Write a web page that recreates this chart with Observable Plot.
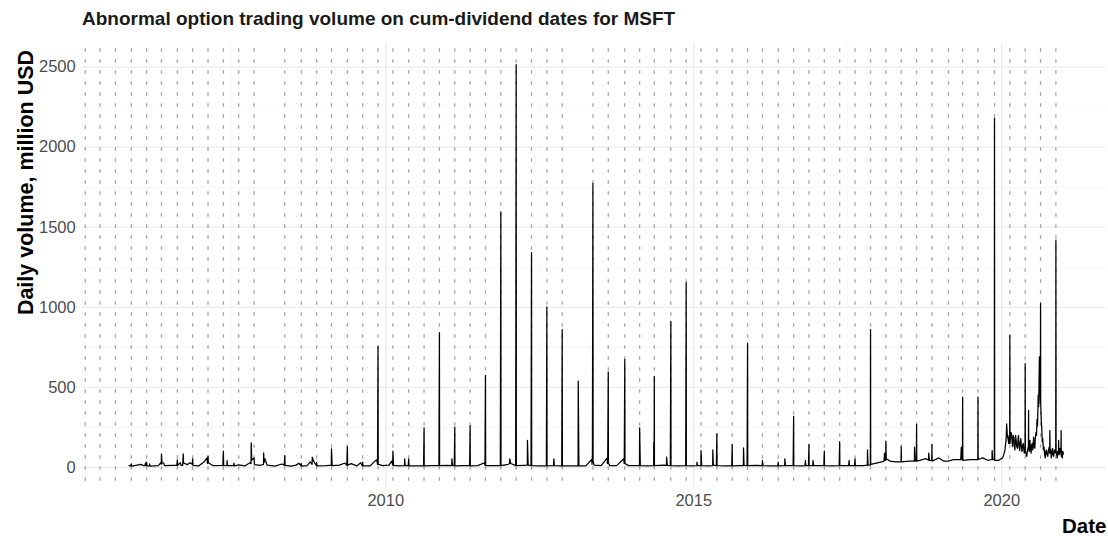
<!DOCTYPE html>
<html>
<head>
<meta charset="utf-8">
<script src="https://cdn.jsdelivr.net/npm/d3@7"></script>
<script src="https://cdn.jsdelivr.net/npm/@observablehq/plot@0.6"></script>
<style>
  html, body { margin: 0; padding: 0; background: #fff; }
  body { width: 1108px; height: 536px; overflow: hidden; font-family: "Liberation Sans", Arial, sans-serif; }
  #title { height: 36px; box-sizing: border-box; padding: 9px 0 0 82px; font-weight: bold; font-size: 19px; line-height: 20px; color: #1a1a1a; white-space: nowrap; }
</style>
</head>
<body>
<div id="title">Abnormal option trading volume on cum-dividend dates for MSFT</div>
<div id="chart"></div>
<script>
// ---- Data -------------------------------------------------------------
const yTitle = "Daily volume, million USD";
const xTitle = "Date";

const yTicks = [0, 500, 1000, 1500, 2000, 2500];
const yMinorTicks = [250, 750, 1250, 1750, 2250];
const xTickYears = ["2010-01-01", "2015-01-01", "2020-01-01"];
const xMinorTicks = ["2007-07-02", "2012-07-01", "2017-07-02"];

// cum-dividend dates (dotted lines)
const dividendDates = [
  "2005-02-14", "2005-05-13", "2005-08-12", "2005-11-14",
  "2006-02-13", "2006-05-12", "2006-08-14", "2006-11-13",
  "2007-02-12", "2007-05-14", "2007-08-13", "2007-11-12",
  "2008-05-12", "2008-08-18", "2008-11-17",
  "2009-02-13", "2009-05-18", "2009-08-17", "2009-11-16",
  "2010-02-12", "2010-05-17", "2010-08-16", "2010-11-15",
  "2011-02-14", "2011-05-16", "2011-08-15", "2011-11-14",
  "2012-02-13", "2012-05-14", "2012-08-13", "2012-11-12",
  "2013-05-13", "2013-08-12", "2013-11-18",
  "2014-02-14", "2014-05-12", "2014-08-18", "2014-11-17",
  "2015-02-13", "2015-05-18", "2015-08-17", "2015-11-16",
  "2016-02-12", "2016-05-16", "2016-08-15", "2016-11-14",
  "2017-02-13", "2017-05-15", "2017-08-14", "2017-11-14",
  "2018-02-13", "2018-05-15", "2018-08-14", "2018-11-13",
  "2019-02-19", "2019-05-14", "2019-08-13", "2019-11-19",
  "2020-02-18", "2020-05-19", "2020-08-18", "2020-11-17"
];

// daily volume (million USD), [date, value]
const volume2005to2009 = [
  ["2005-11-01", 12], ["2005-11-10", 10], ["2005-11-14", 23], ["2005-11-16", 8], ["2005-12-12", 14],
  ["2006-01-09", 20], ["2006-01-26", 12], ["2006-02-03", 12], ["2006-02-06", 28], ["2006-02-08", 14],
  ["2006-02-13", 33], ["2006-02-15", 10], ["2006-03-02", 10], ["2006-03-03", 22], ["2006-03-06", 9],
  ["2006-04-24", 12], ["2006-05-08", 30], ["2006-05-11", 20], ["2006-05-12", 85], ["2006-05-15", 30],
  ["2006-05-26", 26], ["2006-05-30", 12], ["2006-07-21", 14], ["2006-08-11", 14], ["2006-08-14", 48],
  ["2006-08-16", 14], ["2006-09-01", 30], ["2006-09-05", 14], ["2006-09-15", 14], ["2006-09-18", 85],
  ["2006-09-20", 28], ["2006-10-12", 18], ["2006-10-27", 30], ["2006-11-10", 20], ["2006-11-13", 54],
  ["2006-11-15", 14], ["2006-12-18", 10], ["2007-01-19", 35], ["2007-02-05", 58], ["2007-02-09", 25],
  ["2007-02-12", 71], ["2007-02-14", 30], ["2007-03-12", 12], ["2007-05-11", 14], ["2007-05-14", 102],
  ["2007-05-16", 14], ["2007-06-04", 12], ["2007-06-05", 44], ["2007-06-07", 12], ["2007-07-13", 12],
  ["2007-07-16", 27], ["2007-07-18", 10], ["2007-08-13", 16], ["2007-09-17", 10], ["2007-10-19", 30],
  ["2007-10-25", 25], ["2007-10-26", 154], ["2007-10-29", 45], ["2007-11-12", 60], ["2007-11-14", 18],
  ["2007-12-20", 14], ["2008-01-07", 20], ["2008-01-08", 92], ["2008-01-10", 30], ["2008-01-15", 55],
  ["2008-01-28", 15], ["2008-03-14", 9], ["2008-04-25", 22], ["2008-05-09", 14], ["2008-05-12", 75],
  ["2008-05-14", 14], ["2008-06-20", 9], ["2008-07-18", 15], ["2008-08-04", 27], ["2008-08-15", 12],
  ["2008-08-18", 25], ["2008-08-20", 9], ["2008-09-22", 12], ["2008-10-10", 35], ["2008-10-21", 20],
  ["2008-10-22", 65], ["2008-10-31", 38], ["2008-11-14", 14], ["2008-11-17", 30], ["2008-11-19", 10],
  ["2009-01-12", 12], ["2009-02-02", 14], ["2009-02-12", 14], ["2009-02-13", 117], ["2009-02-17", 12],
  ["2009-04-01", 15], ["2009-05-04", 28], ["2009-05-15", 14], ["2009-05-18", 131], ["2009-05-20", 14],
  ["2009-06-10", 24], ["2009-07-13", 10], ["2009-08-05", 30], ["2009-08-14", 12], ["2009-08-17", 33],
  ["2009-08-19", 10], ["2009-10-01", 10], ["2009-10-26", 38], ["2009-11-09", 48], ["2009-11-13", 20],
  ["2009-11-16", 756], ["2009-11-17", 20], ["2009-12-14", 12]
];

const volume2010to2014 = [
  ["2010-01-20", 15], ["2010-02-05", 40], ["2010-02-11", 15], ["2010-02-12", 102], ["2010-02-16", 14],
  ["2010-03-20", 10], ["2010-04-22", 12], ["2010-04-23", 54], ["2010-04-26", 12], ["2010-05-14", 12],
  ["2010-05-17", 54], ["2010-05-19", 10], ["2010-07-01", 10], ["2010-08-13", 10], ["2010-08-16", 248],
  ["2010-08-17", 10], ["2010-10-01", 12], ["2010-11-12", 12], ["2010-11-15", 842], ["2010-11-16", 12],
  ["2011-01-03", 14], ["2011-01-27", 12], ["2011-01-28", 54], ["2011-02-01", 12], ["2011-02-11", 12],
  ["2011-02-14", 252], ["2011-02-15", 10], ["2011-04-01", 12], ["2011-05-13", 12], ["2011-05-16", 262],
  ["2011-05-17", 10], ["2011-07-01", 12], ["2011-08-09", 30], ["2011-08-12", 15], ["2011-08-15", 575],
  ["2011-08-16", 12], ["2011-10-03", 12], ["2011-11-11", 12], ["2011-11-14", 1596], ["2011-11-15", 12],
  ["2011-12-28", 20], ["2012-01-05", 25], ["2012-01-06", 54], ["2012-01-12", 25], ["2012-02-10", 12],
  ["2012-02-13", 2515], ["2012-02-14", 12], ["2012-04-01", 14], ["2012-04-19", 15], ["2012-04-20", 169],
  ["2012-04-24", 15], ["2012-05-11", 12], ["2012-05-14", 1342], ["2012-05-15", 12], ["2012-07-01", 10],
  ["2012-08-10", 10], ["2012-08-13", 1002], ["2012-08-14", 10], ["2012-09-21", 12], ["2012-09-24", 54],
  ["2012-09-26", 12], ["2012-11-09", 10], ["2012-11-12", 860], ["2012-11-13", 10], ["2013-01-02", 10],
  ["2013-02-14", 10], ["2013-02-15", 540], ["2013-02-19", 10], ["2013-04-01", 10], ["2013-05-06", 50],
  ["2013-05-08", 20], ["2013-05-10", 85], ["2013-05-13", 1773], ["2013-05-14", 40], ["2013-05-20", 15],
  ["2013-07-01", 12], ["2013-08-06", 60], ["2013-08-07", 25], ["2013-08-09", 85], ["2013-08-12", 596],
  ["2013-08-13", 30], ["2013-08-20", 12], ["2013-10-01", 12], ["2013-11-12", 55], ["2013-11-14", 25],
  ["2013-11-15", 65], ["2013-11-18", 675], ["2013-11-19", 25], ["2013-12-10", 12], ["2014-02-13", 12],
  ["2014-02-14", 248], ["2014-02-18", 12], ["2014-04-01", 10], ["2014-05-08", 12], ["2014-05-09", 158],
  ["2014-05-11", 20], ["2014-05-12", 569], ["2014-05-13", 12], ["2014-07-10", 15], ["2014-07-23", 14],
  ["2014-07-24", 65], ["2014-07-28", 14], ["2014-08-15", 12], ["2014-08-18", 912], ["2014-08-19", 12],
  ["2014-10-01", 10], ["2014-11-14", 12], ["2014-11-17", 1154], ["2014-11-18", 12], ["2014-12-20", 10]
];

const volume2015to2019 = [
  ["2015-01-19", 12], ["2015-01-20", 33], ["2015-01-23", 12], ["2015-02-12", 12], ["2015-02-13", 106],
  ["2015-02-17", 12], ["2015-04-01", 10], ["2015-04-23", 12], ["2015-04-24", 110], ["2015-04-27", 15],
  ["2015-05-15", 12], ["2015-05-18", 210], ["2015-05-19", 12], ["2015-07-01", 10], ["2015-08-14", 10],
  ["2015-08-17", 144], ["2015-08-18", 10], ["2015-10-01", 12], ["2015-10-22", 12], ["2015-10-23", 123],
  ["2015-10-26", 14], ["2015-11-13", 12], ["2015-11-16", 777], ["2015-11-17", 12], ["2016-01-04", 14],
  ["2016-02-11", 12], ["2016-02-12", 44], ["2016-02-16", 12], ["2016-04-01", 10], ["2016-05-13", 10],
  ["2016-05-16", 33], ["2016-05-18", 10], ["2016-06-23", 12], ["2016-06-24", 54], ["2016-06-28", 12],
  ["2016-08-12", 12], ["2016-08-15", 319], ["2016-08-16", 12], ["2016-10-01", 10], ["2016-10-21", 12],
  ["2016-10-24", 44], ["2016-10-26", 12], ["2016-11-11", 12], ["2016-11-14", 144], ["2016-11-15", 12],
  ["2016-12-07", 12], ["2016-12-08", 44], ["2016-12-12", 12], ["2017-02-10", 12], ["2017-02-13", 102],
  ["2017-02-14", 12], ["2017-04-01", 10], ["2017-05-12", 12], ["2017-05-15", 162], ["2017-05-16", 12],
  ["2017-07-07", 12], ["2017-07-10", 44], ["2017-07-12", 12], ["2017-08-11", 12], ["2017-08-14", 54],
  ["2017-08-16", 12], ["2017-10-01", 12], ["2017-10-26", 15], ["2017-10-27", 110], ["2017-10-30", 15],
  ["2017-11-13", 15], ["2017-11-14", 860], ["2017-11-15", 20], ["2018-01-20", 35], ["2018-02-02", 40],
  ["2018-02-05", 90], ["2018-02-07", 45], ["2018-02-12", 45], ["2018-02-13", 165], ["2018-02-15", 55],
  ["2018-03-10", 40], ["2018-04-10", 35], ["2018-05-14", 35], ["2018-05-15", 131], ["2018-05-16", 35],
  ["2018-07-01", 40], ["2018-08-01", 40], ["2018-08-02", 127], ["2018-08-06", 40], ["2018-08-13", 40],
  ["2018-08-14", 269], ["2018-08-15", 40], ["2018-10-10", 55], ["2018-10-24", 45], ["2018-10-25", 90],
  ["2018-10-29", 45], ["2018-11-12", 45], ["2018-11-13", 144], ["2018-11-14", 40], ["2018-12-24", 60],
  ["2019-01-20", 40], ["2019-02-19", 40], ["2019-03-20", 50], ["2019-05-03", 50], ["2019-05-06", 127],
  ["2019-05-09", 50], ["2019-05-13", 50], ["2019-05-14", 440], ["2019-05-15", 45], ["2019-07-01", 50],
  ["2019-08-12", 50], ["2019-08-13", 440], ["2019-08-14", 50], ["2019-09-10", 60], ["2019-10-10", 45],
  ["2019-11-04", 50], ["2019-11-05", 106], ["2019-11-08", 50], ["2019-11-18", 50], ["2019-11-19", 2179],
  ["2019-11-20", 45], ["2019-12-12", 44]
];

const volume2020 = [
  ["2020-01-06", 60], ["2020-01-13", 80], ["2020-01-20", 110], ["2020-01-27", 180], ["2020-01-30", 273],
  ["2020-02-03", 200], ["2020-02-07", 180], ["2020-02-11", 150], ["2020-02-14", 200], ["2020-02-17", 160],
  ["2020-02-18", 825], ["2020-02-19", 150], ["2020-02-24", 220], ["2020-02-28", 210], ["2020-03-03", 150],
  ["2020-03-06", 130], ["2020-03-09", 200], ["2020-03-12", 190], ["2020-03-16", 140], ["2020-03-19", 110],
  ["2020-03-23", 200], ["2020-03-26", 175], ["2020-03-30", 130], ["2020-04-03", 120], ["2020-04-06", 170],
  ["2020-04-09", 200], ["2020-04-13", 130], ["2020-04-16", 105], ["2020-04-20", 160], ["2020-04-23", 180],
  ["2020-04-27", 120], ["2020-04-30", 100], ["2020-05-04", 140], ["2020-05-08", 150], ["2020-05-11", 110],
  ["2020-05-14", 90], ["2020-05-18", 120], ["2020-05-19", 648], ["2020-05-20", 110], ["2020-05-25", 80],
  ["2020-05-28", 70], ["2020-06-01", 100], ["2020-06-04", 120], ["2020-06-07", 130], ["2020-06-08", 356],
  ["2020-06-09", 130], ["2020-06-12", 100], ["2020-06-16", 170], ["2020-06-19", 120], ["2020-06-23", 90],
  ["2020-06-26", 140], ["2020-06-30", 150], ["2020-07-03", 110], ["2020-07-08", 190], ["2020-07-11", 130],
  ["2020-07-15", 120], ["2020-07-18", 180], ["2020-07-22", 220], ["2020-07-25", 200], ["2020-07-28", 300],
  ["2020-07-31", 260], ["2020-08-04", 450], ["2020-08-07", 380], ["2020-08-11", 690], ["2020-08-14", 520],
  ["2020-08-17", 400], ["2020-08-18", 1023], ["2020-08-19", 400], ["2020-08-22", 300], ["2020-08-25", 250],
  ["2020-08-28", 160], ["2020-08-31", 180], ["2020-09-04", 110], ["2020-09-08", 127], ["2020-09-11", 80],
  ["2020-09-15", 60], ["2020-09-18", 100], ["2020-09-22", 110], ["2020-09-26", 80], ["2020-09-30", 70],
  ["2020-10-03", 100], ["2020-10-07", 125], ["2020-10-11", 90], ["2020-10-12", 231], ["2020-10-14", 90],
  ["2020-10-17", 110], ["2020-10-21", 60], ["2020-10-24", 90], ["2020-10-28", 120], ["2020-10-31", 80],
  ["2020-11-04", 70], ["2020-11-08", 110], ["2020-11-11", 100], ["2020-11-16", 90], ["2020-11-17", 1419],
  ["2020-11-18", 110], ["2020-11-21", 80], ["2020-11-25", 60], ["2020-11-28", 100], ["2020-12-02", 90],
  ["2020-12-03", 169], ["2020-12-05", 80], ["2020-12-08", 80], ["2020-12-11", 120], ["2020-12-14", 120],
  ["2020-12-17", 90], ["2020-12-18", 231], ["2020-12-19", 70], ["2020-12-22", 100], ["2020-12-25", 60],
  ["2020-12-29", 100], ["2020-12-31", 85]
];

// ---- Build ------------------------------------------------------------
const parse = s => new Date(s + "T00:00:00Z");
const series = [...volume2005to2009, ...volume2010to2014, ...volume2015to2019, ...volume2020]
  .map(([d, v]) => ({date: parse(d), value: v}))
  .sort((a, b) => a.date - b.date);
const divs = dividendDates.map(parse);
const xMajor = xTickYears.map(parse);
const xMinor = xMinorTicks.map(parse);

const FONT = "'Liberation Sans', Arial, Helvetica, sans-serif";

const chart = Plot.plot({
  width: 1108,
  height: 500,
  marginTop: 7.3,
  marginBottom: 48.8,
  marginLeft: 82.2,
  marginRight: 2,
  style: {fontFamily: FONT, fontSize: "16.5px", color: "#4d4d4d", background: "white", overflow: "visible"},
  x: {
    type: "utc",
    domain: [parse("2005-01-30"), parse("2021-09-13")],
    ticks: xMajor,
    tickFormat: d => String(d.getUTCFullYear()),
    tickSize: 0,
    tickPadding: 6.5,
    label: null
  },
  y: {
    domain: [-126, 2645],
    ticks: yTicks,
    tickFormat: d => String(d),
    tickSize: 0,
    tickPadding: 7,
    label: null
  },
  marks: [
    Plot.ruleY(yMinorTicks, {stroke: "#f3f3f3", strokeWidth: 0.7}),
    Plot.ruleX(xMinor, {stroke: "#f3f3f3", strokeWidth: 0.7}),
    Plot.ruleY(yTicks, {stroke: "#ebebeb", strokeWidth: 1.3}),
    Plot.ruleX(xMajor, {stroke: "#ebebeb", strokeWidth: 1.3}),
    Plot.ruleX(divs, {stroke: "#a3a3a3", strokeWidth: 1.3, strokeDasharray: "3.5,7.5", strokeDashoffset: 6}),
    Plot.line(series, {x: "date", y: "value", stroke: "#000", strokeWidth: 1.25, strokeLinejoin: "round"}),
    Plot.text([yTitle], {
      frameAnchor: "left", rotate: -90, textAnchor: "middle", lineAnchor: "middle",
      dx: -56.4, dy: -83.25, fontWeight: "bold", fontSize: 21.5, fill: "#000"
    }),
    Plot.text([xTitle], {
      frameAnchor: "bottom-right", textAnchor: "end", lineAnchor: "middle",
      dx: 0, dy: 39.2, fontWeight: "bold", fontSize: 20.5, fill: "#000"
    })
  ]
});
document.getElementById("chart").appendChild(chart);
</script>
</body>
</html>
